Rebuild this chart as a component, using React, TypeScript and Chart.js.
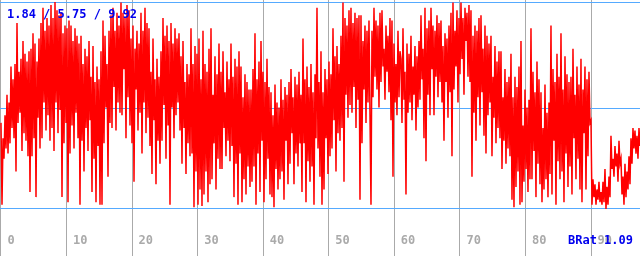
import React, { useEffect, useRef } from "react";
import { Chart, registerables } from "chart.js";

Chart.register(...registerables);

// Tick values of the axes
const X_TICKS = [0, 10, 20, 30, 40, 50, 60, 70, 80, 90];
const Y_LINES = [1.84, 5.75, 9.92];
const STATS_LABEL = "1.84 / 5.75 / 9.92";
const BRAT_LABEL = "BRat 1.09";

// Sample spacing on the x axis (samples are evenly spaced)
const SAMPLE_STEP = 0.15253;

// Series values, in order
const valuesPart1 = [
  5.2, 2.0, 4.6, 3.8, 5.5, 4.2, 6.3, 4.0, 6.0, 4.4,
  7.4, 5.0, 6.9, 4.6, 7.5, 3.3, 9.1, 5.2, 7.2, 5.6,
  7.7, 4.1, 8.4, 4.8, 7.9, 4.5, 7.6, 3.9, 8.0, 2.5,
  8.1, 3.9, 8.7, 4.6, 8.3, 2.3, 7.6, 5.4, 8.5, 4.2,
  9.1, 4.6, 9.7, 6.0, 8.8, 4.9, 9.3, 5.5, 9.0, 4.5,
  9.8, 5.0, 9.3, 4.1, 9.92, 6.0, 9.6, 4.8, 9.4, 5.7,
  9.5, 2.3, 8.7, 4.4, 9.0, 5.2, 8.9, 2.1, 9.2, 4.0,
  9.0, 5.1, 8.4, 4.2, 8.9, 5.6, 8.6, 4.6, 8.3, 2.0,
  8.6, 4.5, 7.5, 3.3, 8.1, 5.0, 7.8, 4.1, 8.4, 5.3,
  7.0, 2.5, 8.2, 3.8, 6.8, 2.1, 7.4, 4.3, 6.9, 2.0,
  8.0, 2.0, 9.2, 4.4, 8.6, 5.8, 7.5, 3.1, 8.8, 5.2,
  9.4, 5.0, 9.7, 6.6, 8.8, 4.9, 9.5, 6.0, 9.0, 5.6,
  9.9, 5.5, 9.5, 7.3, 9.3, 4.6, 9.8, 6.2, 9.6, 5.1,
  8.5, 4.4, 9.0, 2.9, 8.1, 6.5, 8.8, 4.9, 8.3, 5.6,
  9.5, 4.0, 8.8, 6.0, 9.7, 4.8, 9.1, 5.4, 8.9, 4.3,
  7.2, 3.2, 8.5, 5.3, 6.9, 2.8, 7.7, 4.5, 7.0, 3.6,
];
const valuesPart2 = [
  8.0, 4.5, 9.3, 5.9, 8.6, 3.8, 9.0, 5.1, 8.4, 2.0,
  9.1, 5.8, 8.3, 4.6, 8.9, 5.5, 8.5, 6.0, 8.7, 4.9,
  7.8, 3.6, 8.4, 5.0, 6.8, 3.2, 7.5, 4.4, 7.1, 3.9,
  8.9, 4.0, 7.5, 1.9, 8.2, 3.3, 7.9, 2.0, 8.5, 2.6,
  6.9, 1.95, 8.8, 2.4, 7.5, 3.3, 7.2, 2.1, 8.1, 2.8,
  8.9, 3.0, 6.3, 4.4, 7.8, 2.6, 7.1, 3.8, 8.3, 3.4,
  7.2, 3.4, 8.0, 5.0, 6.4, 3.9, 7.6, 4.5, 6.9, 3.7,
  8.3, 4.3, 7.0, 2.3, 7.7, 3.6, 7.4, 2.0, 8.0, 4.0,
  7.4, 2.1, 6.2, 3.0, 7.1, 2.4, 6.8, 3.5, 6.5, 2.7,
  6.5, 2.9, 7.3, 3.5, 8.7, 2.0, 6.9, 4.0, 7.6, 2.5,
  8.4, 4.5, 7.2, 2.1, 6.8, 3.0, 7.7, 3.8, 6.6, 2.4,
  6.4, 2.3, 5.5, 1.9, 6.7, 3.4, 6.0, 2.6, 5.8, 3.0,
  6.9, 3.3, 6.1, 2.2, 6.6, 4.5, 6.3, 2.8, 6.8, 3.6,
  7.3, 4.8, 6.2, 2.8, 7.0, 4.0, 6.7, 3.5, 7.2, 4.4,
  6.3, 2.5, 8.5, 4.4, 6.9, 2.1, 7.4, 3.7, 6.6, 2.9,
  7.5, 3.5, 6.4, 2.0, 7.1, 4.6, 9.7, 4.2, 6.8, 3.1,
];
const valuesPart3 = [
  8.0, 2.0, 6.4, 2.6, 7.3, 4.6, 6.9, 3.2, 7.6, 3.9,
  7.1, 4.2, 8.9, 5.3, 7.8, 3.3, 8.2, 4.8, 7.5, 4.5,
  8.6, 5.0, 9.9, 2.9, 9.3, 6.3, 9.0, 5.4, 9.6, 5.9,
  9.7, 5.6, 9.1, 6.6, 9.5, 5.0, 9.3, 6.1, 9.4, 2.2,
  9.4, 4.4, 8.4, 6.5, 9.0, 5.2, 8.8, 6.0, 9.2, 5.5,
  2.0, 8.8, 6.2, 9.7, 7.0, 9.2, 6.5, 9.0, 5.8, 9.5,
  6.8, 9.6, 7.4, 8.1, 6.1, 9.0, 7.2, 8.6, 6.4, 9.3,
  5.3, 9.2, 3.1, 8.3, 6.0, 7.5, 5.5, 8.8, 6.2, 8.0,
  7.7, 5.2, 8.9, 6.1, 7.2, 2.4, 8.3, 5.6, 7.9, 6.0,
  8.6, 5.3, 7.4, 6.3, 8.2, 4.9, 7.8, 5.8, 8.4, 6.1,
  9.4, 6.9, 8.1, 4.6, 9.7, 3.7, 8.9, 6.3, 9.2, 5.5,
  9.7, 7.3, 9.0, 5.5, 8.8, 7.0, 9.4, 6.2, 9.1, 6.8,
  9.2, 6.0, 8.2, 4.5, 8.7, 6.8, 8.5, 5.4, 9.0, 6.4,
  9.5, 3.9, 9.9, 6.5, 8.8, 7.4, 9.6, 6.0, 9.3, 7.1,
  9.9, 7.7, 9.3, 6.3, 9.7, 8.4, 9.5, 7.0, 9.8, 6.8,
  9.6, 3.1, 8.6, 5.6, 9.0, 4.5, 8.8, 6.2, 9.3, 5.1,
];
const valuesPart4 = [
  9.4, 6.4, 8.1, 4.7, 9.0, 4.0, 8.6, 5.5, 8.3, 6.0,
  8.6, 3.9, 7.0, 5.4, 8.2, 4.4, 7.6, 5.0, 8.0, 4.6,
  8.0, 3.4, 6.2, 4.5, 7.3, 3.6, 6.8, 4.2, 7.0, 3.9,
  7.9, 2.2, 6.2, 1.9, 7.0, 2.7, 6.6, 3.3, 7.4, 2.0,
  8.4, 2.1, 5.1, 2.9, 6.5, 3.4, 5.8, 2.5, 6.1, 3.0,
  8.9, 3.0, 7.2, 4.1, 6.4, 2.3, 7.6, 3.6, 6.9, 2.8,
  6.4, 2.1, 5.0, 2.6, 6.7, 3.0, 5.6, 2.3, 6.0, 3.2,
  9.0, 2.4, 7.3, 4.5, 6.8, 2.0, 7.9, 3.7, 7.0, 3.0,
  8.7, 3.3, 6.5, 2.1, 7.8, 4.0, 7.1, 2.7, 6.8, 3.5,
  7.0, 2.4, 8.1, 4.6, 6.3, 3.0, 7.4, 3.8, 6.7, 2.6,
  7.7, 2.1, 6.5, 4.8, 7.4, 2.6, 6.9, 3.9, 7.2, 5.2,
  5.3, 2.0, 3.0, 2.3, 2.8, 2.0, 2.6, 2.2, 2.9, 2.1,
  2.5, 2.0, 2.9, 2.1, 3.4, 1.84, 2.7, 2.0, 3.1, 2.3,
  4.7, 3.4, 3.8, 3.1, 4.3, 3.5, 4.0, 2.9, 4.5, 3.6,
  3.8, 2.4, 3.1, 2.0, 3.6, 2.3, 3.3, 2.6, 3.9, 2.8,
  4.6, 3.6, 5.0, 4.2, 4.9, 4.0, 4.7, 3.8, 5.0, 4.3,
];

const SERIES = [...valuesPart1, ...valuesPart2, ...valuesPart3, ...valuesPart4];

const MONO = '"DejaVu Sans Mono", "Liberation Mono", monospace';

const labelPlugin = {
  id: "labelPlugin",
  afterDraw(chart: any) {
    const ctx = chart.ctx;
    const xs = chart.scales.x;
    ctx.save();
    ctx.font = `bold 12px ${MONO}`;
    ctx.textBaseline = "middle";
    ctx.textAlign = "left";
    ctx.fillStyle = "#aaaaaa";
    X_TICKS.forEach((v) => {
      const px = xs.getPixelForValue(v);
      ctx.fillText(String(v), px + 6.5, 241);
    });
    ctx.fillStyle = "#0000ee";
    ctx.fillText(STATS_LABEL, 7, 15);
    ctx.textAlign = "right";
    ctx.fillText(BRAT_LABEL, 633, 241);
    ctx.restore();
  },
};

export default function App() {
  const ref = useRef<HTMLCanvasElement | null>(null);

  useEffect(() => {
    document.body.style.margin = "0";
    const canvas = ref.current;
    if (!canvas) return;
    const chart = new Chart(canvas, {
      type: "line",
      data: {
        datasets: [
          {
            data: SERIES.map((v, i) => ({ x: i * SAMPLE_STEP, y: v })),
            borderColor: "#ff0000",
            borderWidth: 1.5,
            pointRadius: 0,
            tension: 0,
            fill: false,
          },
        ],
      },
      options: {
        animation: false,
        responsive: false,
        maintainAspectRatio: false,
        layout: { padding: 0 },
        plugins: {
          legend: { display: false },
          tooltip: { enabled: false },
        },
        scales: {
          x: {
            type: "linear",
            min: -0.1525,
            max: 97.47,
            z: 1,
            border: { display: false },
            grid: { color: "#aaaaaa", drawTicks: false, lineWidth: 1 },
            ticks: { display: false },
            afterBuildTicks: (s: any) => {
              s.ticks = X_TICKS.map((v) => ({ value: v }));
            },
          },
          y: {
            type: "linear",
            min: 0,
            max: 10,
            z: 1,
            border: { display: false },
            grid: { color: "#55aaff", drawTicks: false, lineWidth: 1 },
            ticks: { display: false },
            afterBuildTicks: (s: any) => {
              s.ticks = Y_LINES.map((v) => ({ value: v }));
            },
          },
        },
      },
      plugins: [labelPlugin],
    });
    return () => chart.destroy();
  }, []);

  return (
    <div style={{ width: 640, height: 256 }}>
      <canvas ref={ref} width={640} height={256} style={{ display: "block" }} />
    </div>
  );
}
